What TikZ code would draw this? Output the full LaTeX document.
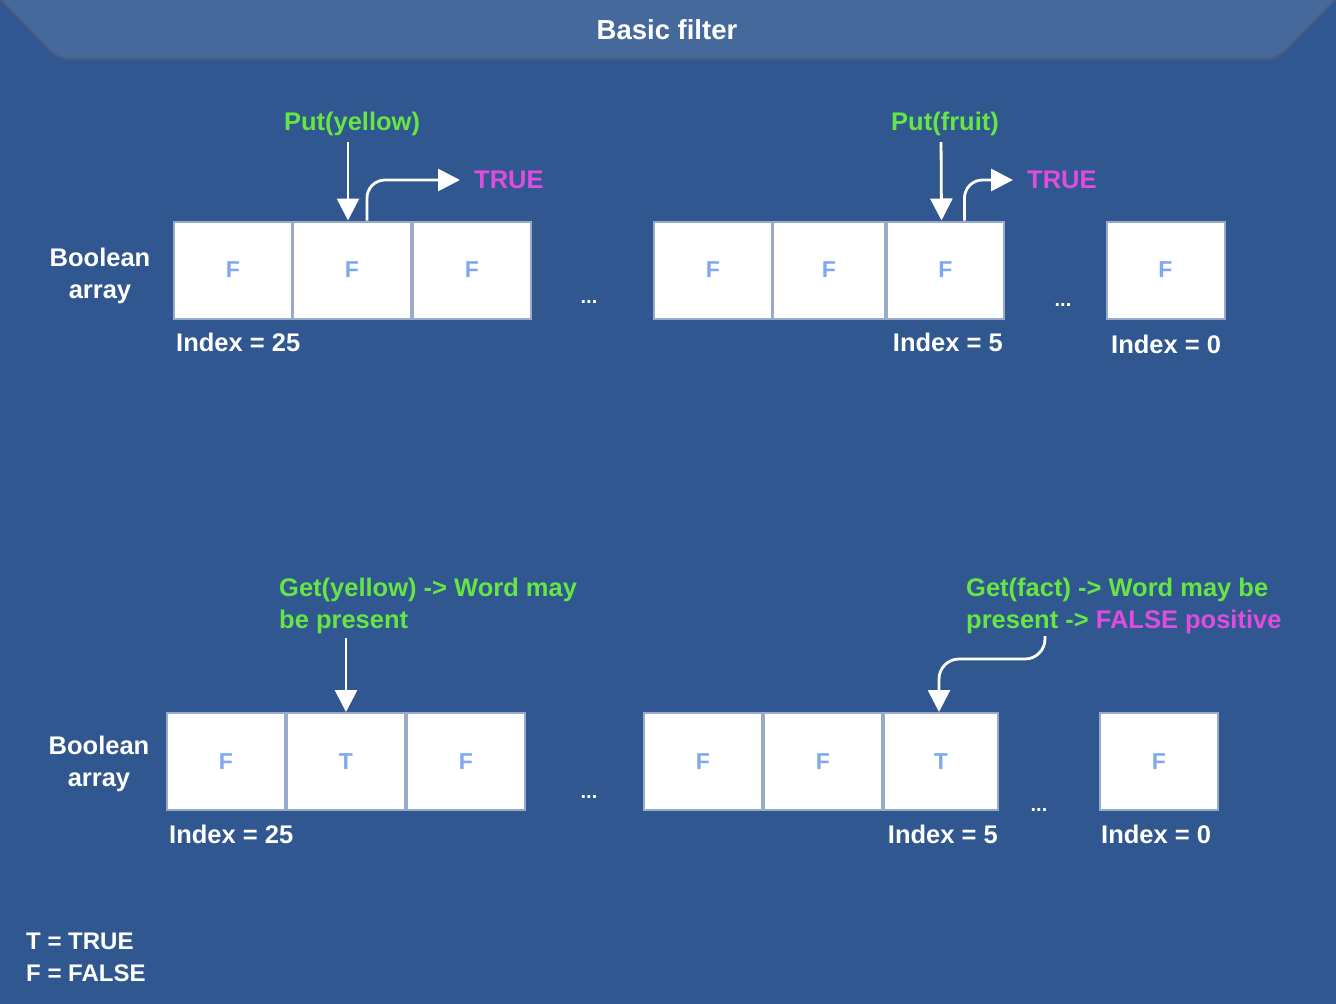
\documentclass[tikz,border=0pt]{standalone}
\usepackage{fontspec}
\setmainfont{Liberation Sans}
\usetikzlibrary{arrows.meta}
\definecolor{bg}{HTML}{30578F}
\definecolor{bannerfill}{HTML}{46699B}
\definecolor{bannerline}{HTML}{4A5A82}
\definecolor{cellline}{HTML}{9AAACB}
\definecolor{letter}{HTML}{7FA8F2}
\definecolor{putgreen}{HTML}{66E644}
\definecolor{hitpink}{HTML}{E04CE0}

\begin{document}
\begin{tikzpicture}[x=1pt,y=-1pt,font=\bfseries\fontsize{25.5}{32}\selectfont,text=white,
  cell/.style={draw=cellline,line width=2pt,fill=white,minimum width=118pt,minimum height=97pt,inner sep=0pt,text=letter,font=\bfseries\fontsize{23}{23}\selectfont},
  lbl/.style={inner sep=0pt},
  dots/.style={inner sep=0pt,font=\bfseries\fontsize{20}{20}\selectfont},
  flow/.style={draw=white,line width=2.8pt,-{Triangle[length=22pt,width=22pt]}}]
\useasboundingbox (0,0) rectangle (1336,1004);
\fill[bg] (0,0) rectangle (1336,1004);
\draw[bannerline,line width=1.5pt] (0,1) -- (1336,1);
\draw[fill=bannerfill,draw=bannerline,line width=2pt,rounded corners=10pt] (1,0) -- (58,59) -- (1277,59) -- (1335,0);
\node[lbl,font=\bfseries\fontsize{27.5}{27.5}\selectfont] (title) at (667,30) {Basic filter};
% put row
\node[lbl,align=center] (arr1) at (100,276) {Boolean\\array};
\node[cell] (P1) at (233,270) {F};
\node[cell] (P2) at (352,270) {F};
\node[cell] (P3) at (472,270) {F};
\node[dots] (dots1) at (589,302) {...};
\node[cell] (P4) at (713,270) {F};
\node[cell,minimum width=112pt] (P5) at (829,270) {F};
\node[cell,minimum width=117pt] (P6) at (945.5,270) {F};
\node[dots] (dots2) at (1063,305) {...};
\node[cell] (P7) at (1165.5,270) {F};
\node[lbl,anchor=west] (idx1) at (176,342) {Index = 25};
\node[lbl,anchor=east] (idx2) at (1003,342) {Index = 5};
\node[lbl,anchor=west] (idx3) at (1111,344) {Index = 0};
\node[lbl,text=putgreen] (put1) at (352,124) {Put(yellow)};
\node[lbl,text=putgreen] (put2) at (945,124) {Put(fruit)};
\node[lbl,anchor=west,text=hitpink] (true1) at (474,180) {TRUE};
\node[lbl,anchor=west,text=hitpink] (true2) at (1027,180) {TRUE};
\draw[flow,shorten <=6pt] ([xshift=-4pt]put1.south) -- ([xshift=-4pt]P2.north);
\draw[flow,rounded corners=18pt] ([xshift=15pt]P2.north) |- ([xshift=-14pt]true1.west);
\draw[flow,shorten <=6pt] ([xshift=-4pt]put2.south) -- ([xshift=-4pt]P6.north);
\draw[flow,rounded corners=18pt] ([xshift=19pt]P6.north) |- ([xshift=-14pt]true2.west);
% get row
\node[lbl,align=center] (arr2) at (99,764) {Boolean\\array};
\node[cell] (G1) at (226,761.5) {F};
\node[cell] (G2) at (346,761.5) {T};
\node[cell] (G3) at (466,761.5) {F};
\node[dots] (dots3) at (589,797) {...};
\node[cell] (G4) at (703,761.5) {F};
\node[cell] (G5) at (823,761.5) {F};
\node[cell,minimum width=114pt] (G6) at (941,761.5) {T};
\node[dots] (dots4) at (1039,810) {...};
\node[cell] (G7) at (1159,761.5) {F};
\node[lbl,anchor=west] (idx4) at (169,834) {Index = 25};
\node[lbl,anchor=east] (idx5) at (998,834) {Index = 5};
\node[lbl,anchor=west] (idx6) at (1101,834) {Index = 0};
\node[lbl,anchor=west,align=left,text=putgreen] (get1) at (279,606) {Get(yellow) -> Word may\\be present};
\node[lbl,anchor=west,align=left,text=putgreen] (get2) at (966,606) {Get(fact) -> Word may be\\present -> \textcolor{hitpink}{FALSE positive}};
\coordinate (fs) at (1045,636);
\draw[flow,shorten <=4pt] (get1.south -| G2.north) -- (G2.north);
\draw[flow,rounded corners=20pt] (fs) -- ++(0,23) -| ([xshift=-2pt]G6.north);
% legend
\node[lbl,anchor=west,align=left,font=\bfseries\fontsize{24}{32}\selectfont] (key) at (26,957) {T = TRUE\\F = FALSE};
\end{tikzpicture}
\end{document}
